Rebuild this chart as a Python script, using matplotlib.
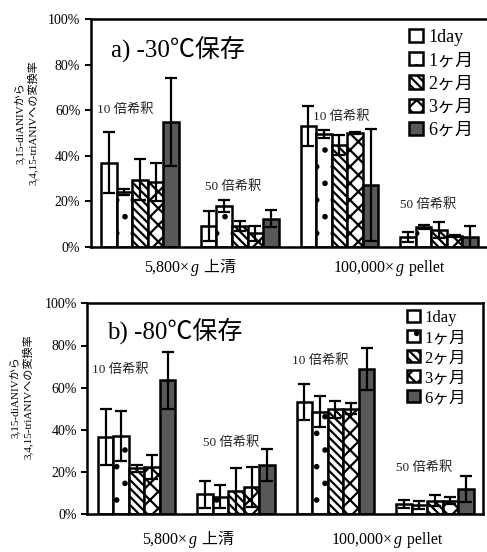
import numpy as np
import matplotlib
matplotlib.use("Agg")
import matplotlib.pyplot as plt
from matplotlib.font_manager import FontProperties
from matplotlib.offsetbox import TextArea, HPacker, AnnotationBbox

plt.rcParams['font.family'] = ['Liberation Serif', 'Noto Sans CJK JP']
plt.rcParams['hatch.linewidth'] = 1.6

periods = ['1day', '1ヶ月', '2ヶ月', '3ヶ月', '6ヶ月']
dilutions = ['10 倍希釈', '50 倍希釈', '10 倍希釈', '50 倍希釈']

# 値: 期間ごと、4グループ (5,800×g 10倍, 50倍, 100,000×g 10倍, 50倍)
mean_30 = [[37.0, 9.2, 53.1, 4.5],
           [24.2, 18.0, 49.6, 8.8],
           [29.6, 9.2, 44.7, 7.3],
           [28.5, 6.0, 50.0, 4.8],
           [54.8, 12.4, 27.1, 4.2]]
err_30 = [[13.5, 6.6, 8.8, 2.2],
          [1.2, 2.8, 1.6, 0.7],
          [9.0, 2.2, 4.4, 3.5],
          [8.5, 3.3, 0.3, 0.3],
          [19.4, 3.7, 24.5, 5.0]]

mean_80 = [[36.8, 9.5, 53.2, 4.7],
           [37.1, 8.4, 48.7, 4.4],
           [21.8, 11.0, 49.8, 6.5],
           [22.4, 13.1, 50.1, 6.5],
           [63.5, 23.4, 68.9, 12.0]]
err_80 = [[13.3, 6.3, 8.5, 1.9],
          [11.7, 5.4, 7.5, 1.9],
          [1.6, 11.0, 4.1, 2.8],
          [5.9, 9.5, 2.8, 1.7],
          [13.5, 7.7, 10.0, 6.0]]

fills = ['white', 'white', 'white', 'white', '#585858']
hatches = [None, '.', '\\\\\\\\', 'xx', None]

W, H = 487, 552
fig = plt.figure(figsize=(4.87, 5.52), dpi=100)


def px(x, y):
    return x / W, 1 - y / H


def draw_panel(ax, means, errs, title, label_pos, legend_anchor, legend_size, lspace):
    x = np.arange(4)
    bw = 0.156
    handles = []
    for i in range(5):
        xi = x + (i - 2) * bw
        b = ax.bar(xi, means[i], bw, color=fills[i], edgecolor='black',
                   linewidth=1.8, hatch=hatches[i], label=periods[i], zorder=2)
        ax.errorbar(xi, means[i], yerr=errs[i], fmt='none', ecolor='black',
                    elinewidth=1.6, capsize=4, capthick=1.6, zorder=3)
        handles.append(b)
    ax.set_xlim(-0.495, 3.48)
    ax.set_ylim(0, 100)
    ax.set_yticks(range(0, 101, 20))
    ax.set_yticklabels([f'{v}%' for v in range(0, 101, 20)], fontsize=10)
    ax.set_xticks([])
    ax.tick_params(axis='y', direction='out', length=4, width=1.4)
    for s in ax.spines.values():
        s.set_linewidth(1.8)
    ax.text(0.05, 0.87, title, transform=ax.transAxes, fontsize=18, va='center')
    for (lx, ly), t in zip(label_pos, dilutions):
        ax.text(*px(lx, ly), t, transform=fig.transFigure, fontsize=9.5,
                color='#222222', va='center', ha='left')
    ax.legend(handles=handles, loc='upper left',
              bbox_to_anchor=px(*legend_anchor), bbox_transform=fig.transFigure,
              frameon=False, prop=FontProperties(family=['Liberation Serif', 'Noto Sans CJK JP'], size=legend_size),
              handlelength=0.75, handleheight=0.75, handletextpad=0.3,
              labelspacing=lspace, borderpad=0, borderaxespad=0)


def cat_label(xc, yc, parts):
    boxes = []
    for t, it in parts:
        boxes.append(TextArea(t, textprops=dict(fontsize=11.5, fontstyle='italic' if it else 'normal',
                                                family=['Liberation Serif', 'Noto Sans CJK JP'])))
    pack = HPacker(children=boxes, align='baseline', pad=0, sep=1)
    ab = AnnotationBbox(pack, px(xc, yc), xycoords='figure fraction', frameon=False,
                        box_alignment=(0.5, 0.5), pad=0)
    fig.add_artist(ab)


def y_label(xc, yc):
    fig.text(*px(xc, yc), '3,15-diANIVから\n3,4,15-triANIVへの変換率', rotation=90,
             fontsize=8, ha='center', va='center', multialignment='center', linespacing=1.3)


# a) -30℃
l, b = px(90.7, 247)
ax1 = fig.add_axes([l, b, 1.0 - l, 228 / H])
draw_panel(ax1, mean_30, err_30, 'a) -30℃保存',
           [(97, 110), (205, 187), (313, 117), (400, 205)], (409, 29), 13, 0.34)
ax1.spines['right'].set_visible(False)
y_label(26, 123)
cat_label(190, 268, [('5,800×', False), ('g', True), (' 上清', False)])
cat_label(389, 268, [('100,000×', False), ('g', True), (' pellet', False)])

# b) -80℃
l, b = px(87.3, 514.3)
ax2 = fig.add_axes([l, b, (482.7 - 87.3) / W, 211 / H])
draw_panel(ax2, mean_80, err_80, 'b) -80℃保存',
           [(92, 370), (203, 443), (292, 361), (396, 468)], (407, 310), 12, 0.24)
y_label(21, 397)
cat_label(188, 540, [('5,800×', False), ('g', True), (' 上清', False)])
cat_label(387, 540, [('100,000×', False), ('g', True), (' pellet', False)])

fig.savefig('out.png', dpi=100)
